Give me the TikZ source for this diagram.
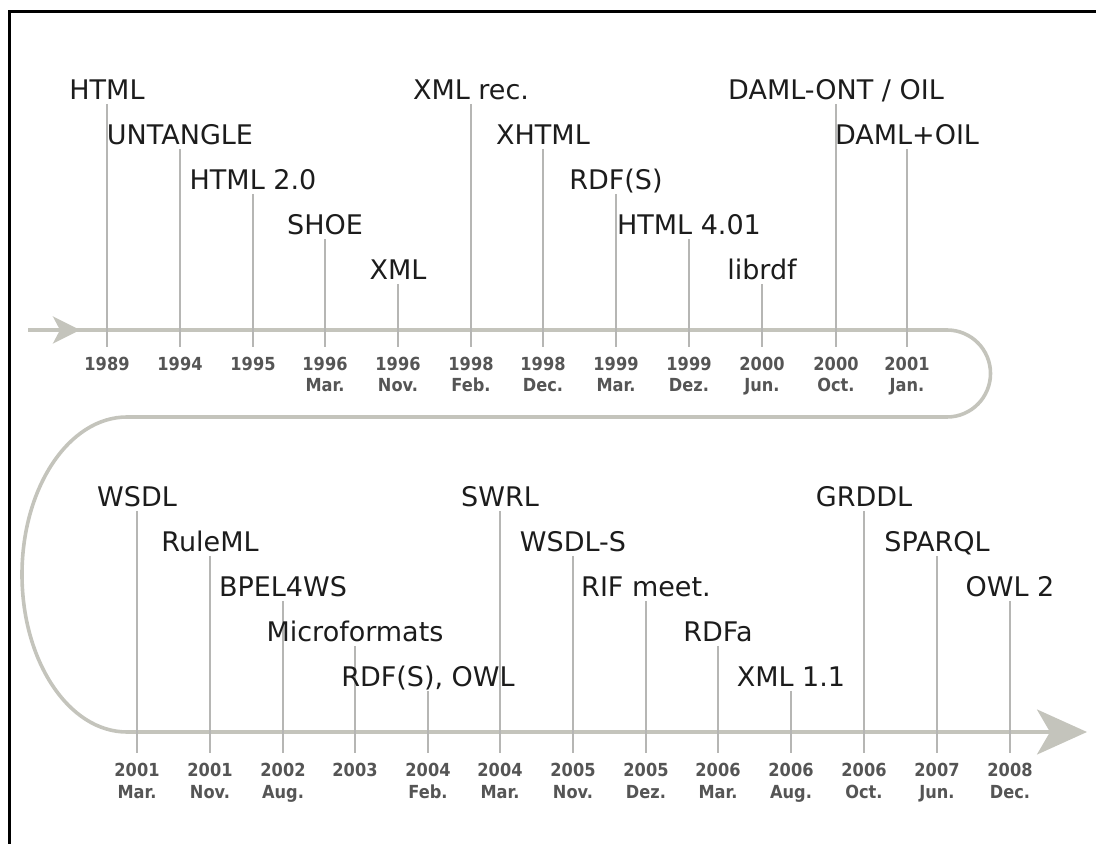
\documentclass[tikz,border=0pt]{standalone}
\usepackage{fontspec}
\setmainfont{DejaVu Sans}
\newfontfamily\datefont[FakeStretch=0.9]{DejaVu Sans}
\usetikzlibrary{arrows.meta}
\definecolor{track}{HTML}{C4C4BC}
\definecolor{tickcol}{HTML}{B6B6B4}
\definecolor{datecol}{HTML}{555555}
\definecolor{labelcol}{HTML}{1C1C1C}

\begin{document}
\begin{tikzpicture}[x=1pt,y=1pt,
  evlabel/.style={anchor=base, inner sep=0pt, text=labelcol,
    font=\fontsize{27}{27}\selectfont},
  datelabel/.style={anchor=base, inner sep=0pt, text=datecol,
    font=\datefont\bfseries\fontsize{18}{18}\selectfont},
  tickline/.style={draw=tickcol, line width=2.2pt},
  trackline/.style={draw=track, line width=3.6pt},
  frameline/.style={draw=black, line width=2.5pt}]

\useasboundingbox (0,0) rectangle (1096,844);

% outer frame (runs off the page to the right and bottom)
\draw[frameline] (9.5,-10) -- (9.5,832.5) -- (1110,832.5);

% the winding time track
\draw[trackline, -{Stealth[length=50pt,width=45pt,inset=13pt]}]
  (28,514) -- (947,514)
  arc[start angle=90, end angle=-90, radius=43.5]
  -- (127,427)
  arc[start angle=90, end angle=270, x radius=105, y radius=157.5]
  -- (1087,112);
\draw[trackline, -{Stealth[length=27pt,width=27pt,inset=7pt]}] (28,514) -- (80,514);

% first row: 1989 -- 2001
\foreach \x/\b/\t/\yr/\mo [count=\i] in {
  107/744/HTML/1989/{},
  180/699/UNTANGLE/1994/{},
  253/654/HTML 2.0/1995/{},
  325/609/SHOE/1996/Mar.,
  398/564/XML/1996/Nov.,
  471/744/XML rec./1998/Feb.,
  543/699/XHTML/1998/Dec.,
  616/654/RDF(S)/1999/Mar.,
  689/609/HTML 4.01/1999/Dez.,
  762/564/librdf/2000/Jun.,
  836/744/{DAML-ONT / OIL}/2000/Oct.,
  907/699/DAML+OIL/2001/Jan.}{
  \node[evlabel] (a\i) at (\x,\b) {\t};
  \coordinate (ta\i) at (\x,497);
  \draw[tickline] ([yshift=-4pt]a\i.base) -- (ta\i);
  \node[datelabel] (ya\i) at (\x,473) {\yr};
  \node[datelabel] (ma\i) at (\x,452) {\mo};
}

% second row: 2001 -- 2008
\foreach \x/\b/\t/\yr/\mo [count=\i] in {
  137/337/WSDL/2001/Mar.,
  210/292/RuleML/2001/Nov.,
  283/247/BPEL4WS/2002/Aug.,
  355/202/Microformats/2003/{},
  428/157/{RDF(S), OWL}/2004/Feb.,
  500/337/SWRL/2004/Mar.,
  573/292/WSDL-S/2005/Nov.,
  646/247/RIF meet./2005/Dez.,
  718/202/RDFa/2006/Mar.,
  791/157/XML 1.1/2006/Aug.,
  864/337/GRDDL/2006/Oct.,
  937/292/SPARQL/2007/Jun.,
  1010/247/OWL 2/2008/Dec.}{
  \node[evlabel] (b\i) at (\x,\b) {\t};
  \coordinate (tb\i) at (\x,91);
  \draw[tickline] ([yshift=-4pt]b\i.base) -- (tb\i);
  \node[datelabel] (yb\i) at (\x,67) {\yr};
  \node[datelabel] (mb\i) at (\x,45) {\mo};
}
\end{tikzpicture}
\end{document}
